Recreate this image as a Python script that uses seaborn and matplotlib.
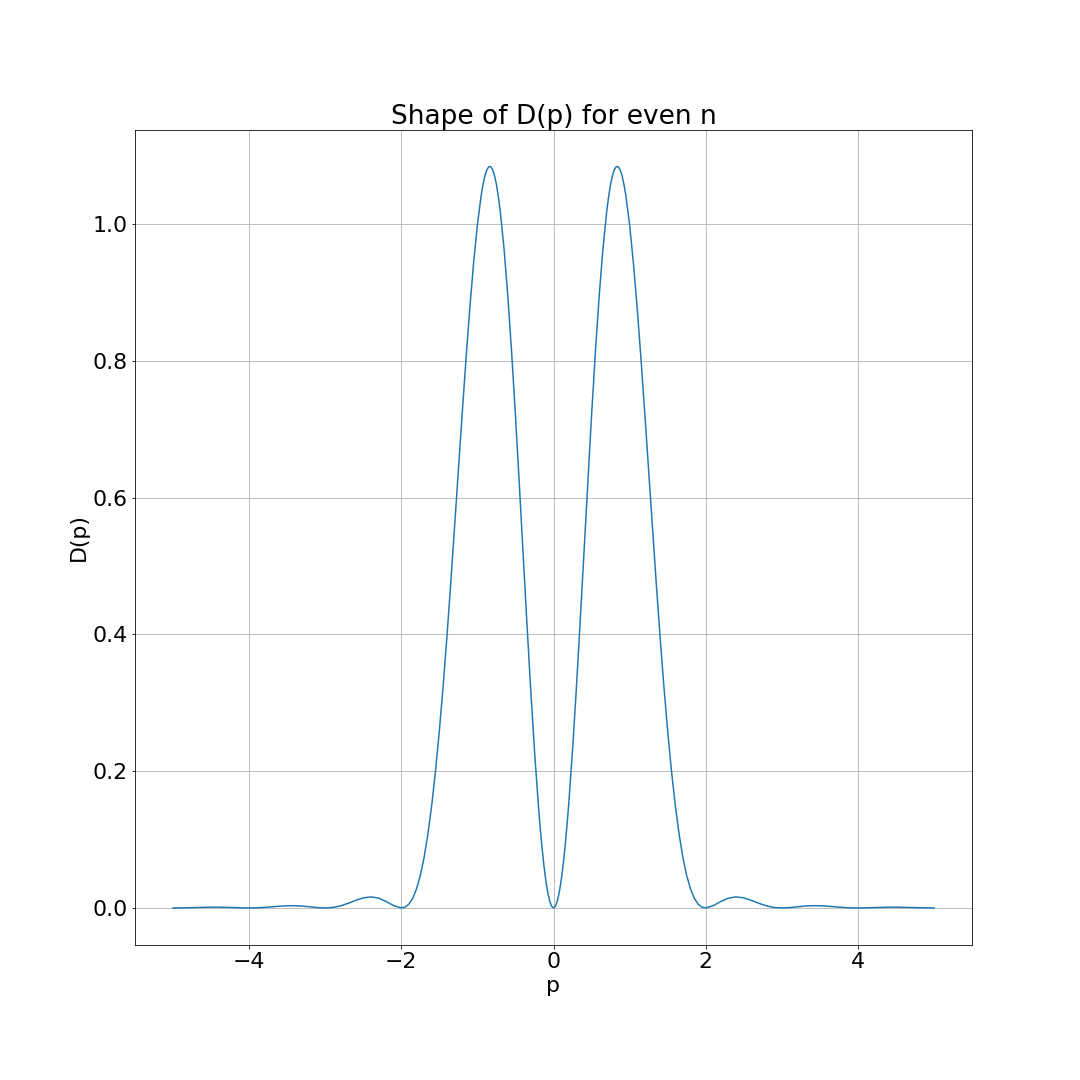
import matplotlib
matplotlib.use("Agg")
import matplotlib.pyplot as plt
import seaborn as sns

# Values of D(p) (peaks near +-0.83, zeros at 0, +-2, +-3, +-4)
pNeg = [-5.0, -4.9, -4.8, -4.7, -4.6, -4.5, -4.4, -4.3, -4.2, -4.1,
        -4.0, -3.9, -3.8, -3.7, -3.6, -3.5, -3.4, -3.3, -3.2, -3.1,
        -3.0, -2.9, -2.8, -2.7, -2.6, -2.5, -2.4, -2.3, -2.2, -2.1,
        -2.0, -1.95, -1.9, -1.85, -1.8, -1.75, -1.7, -1.65, -1.6, -1.55,
        -1.5, -1.45, -1.4, -1.35, -1.3, -1.25, -1.2, -1.15, -1.1, -1.05,
        -1.0, -0.95, -0.925, -0.9, -0.875, -0.85, -0.825, -0.8, -0.775, -0.75,
        -0.725, -0.7, -0.65, -0.6, -0.55,
        -0.5, -0.45, -0.4, -0.35, -0.3, -0.25, -0.2, -0.175, -0.15, -0.125,
        -0.1, -0.075, -0.05, -0.025]
dNeg = [0.0, 0.00007, 0.00029, 0.00060, 0.00090, 0.00109, 0.00109, 0.00087, 0.00051, 0.00015,
        0.0, 0.00019, 0.00077, 0.00165, 0.00256, 0.00320, 0.00329, 0.00271, 0.00164, 0.00052,
        0.0, 0.00070, 0.00299, 0.00670, 0.01104, 0.01469, 0.01617, 0.01440, 0.00949, 0.00333,
        0.0, 0.00126, 0.00568, 0.0142, 0.0279, 0.0476, 0.0742, 0.1084, 0.1505, 0.2008,
        0.2592, 0.3250, 0.3975, 0.4753, 0.5568, 0.6400, 0.7228, 0.8026, 0.8770, 0.9433,
        0.9992, 1.0425, 1.0585, 1.0714, 1.0796, 1.0840, 1.0840, 1.0797, 1.0708, 1.0580,
        1.0406, 1.0191, 0.9641, 0.8944, 0.8121,
        0.7200, 0.6212, 0.5192, 0.4176, 0.3201, 0.2304, 0.1518, 0.1177, 0.0874, 0.0612,
        0.0395, 0.02231, 0.00996, 0.002496]

pPos = [0.0, 0.025, 0.05, 0.075, 0.1, 0.125, 0.15, 0.175, 0.2, 0.25,
        0.3, 0.35, 0.4, 0.45, 0.5, 0.55, 0.6, 0.65, 0.7, 0.725,
        0.75, 0.775, 0.8, 0.825, 0.85, 0.875, 0.9, 0.925, 0.95,
        1.0, 1.05, 1.1, 1.15, 1.2, 1.25, 1.3, 1.35, 1.4, 1.45,
        1.5, 1.55, 1.6, 1.65, 1.7, 1.75, 1.8, 1.85, 1.9, 1.95,
        2.0, 2.1, 2.2, 2.3, 2.4, 2.5, 2.6, 2.7, 2.8, 2.9,
        3.0, 3.1, 3.2, 3.3, 3.4, 3.5, 3.6, 3.7, 3.8, 3.9,
        4.0, 4.1, 4.2, 4.3, 4.4, 4.5, 4.6, 4.7, 4.8, 4.9, 5.0]
dPos = [0.0, 0.002496, 0.00996, 0.02231, 0.0395, 0.0612, 0.0874, 0.1177, 0.1518, 0.2304,
        0.3201, 0.4176, 0.5192, 0.6212, 0.7200, 0.8121, 0.8944, 0.9641, 1.0191, 1.0406,
        1.0580, 1.0708, 1.0797, 1.0840, 1.0840, 1.0796, 1.0714, 1.0585, 1.0425,
        0.9992, 0.9433, 0.8770, 0.8026, 0.7228, 0.6400, 0.5568, 0.4753, 0.3975, 0.3250,
        0.2592, 0.2008, 0.1505, 0.1084, 0.0742, 0.0476, 0.0279, 0.0142, 0.00568, 0.00126,
        0.0, 0.00333, 0.00949, 0.01440, 0.01617, 0.01469, 0.01104, 0.00670, 0.00299, 0.00070,
        0.0, 0.00052, 0.00164, 0.00271, 0.00329, 0.00320, 0.00256, 0.00165, 0.00077, 0.00019,
        0.0, 0.00015, 0.00051, 0.00087, 0.00109, 0.00109, 0.00090, 0.00060, 0.00029, 0.00007, 0.0]

p = pNeg + pPos
D = dNeg + dPos

plt.rcParams['font.size'] = 22

# 15in x 15in at 72 dpi gives the 1080x1080 picture
fig, ax = plt.subplots(figsize=(15, 15), dpi=72)
fig.subplots_adjust(left=0.125, right=0.9, bottom=0.125, top=0.88)

sns.lineplot(x=p, y=D, ax=ax, color="#1f77b4", linewidth=1.5, sort=False)

ax.grid(True, color="#b0b0b0", linewidth=0.8)
ax.set_title("Shape of D(p) for even n")
ax.set_xlabel("p")
ax.set_ylabel("D(p)")
ax.set_xticks([-4, -2, 0, 2, 4])

fig.savefig("out.png", dpi=72)
